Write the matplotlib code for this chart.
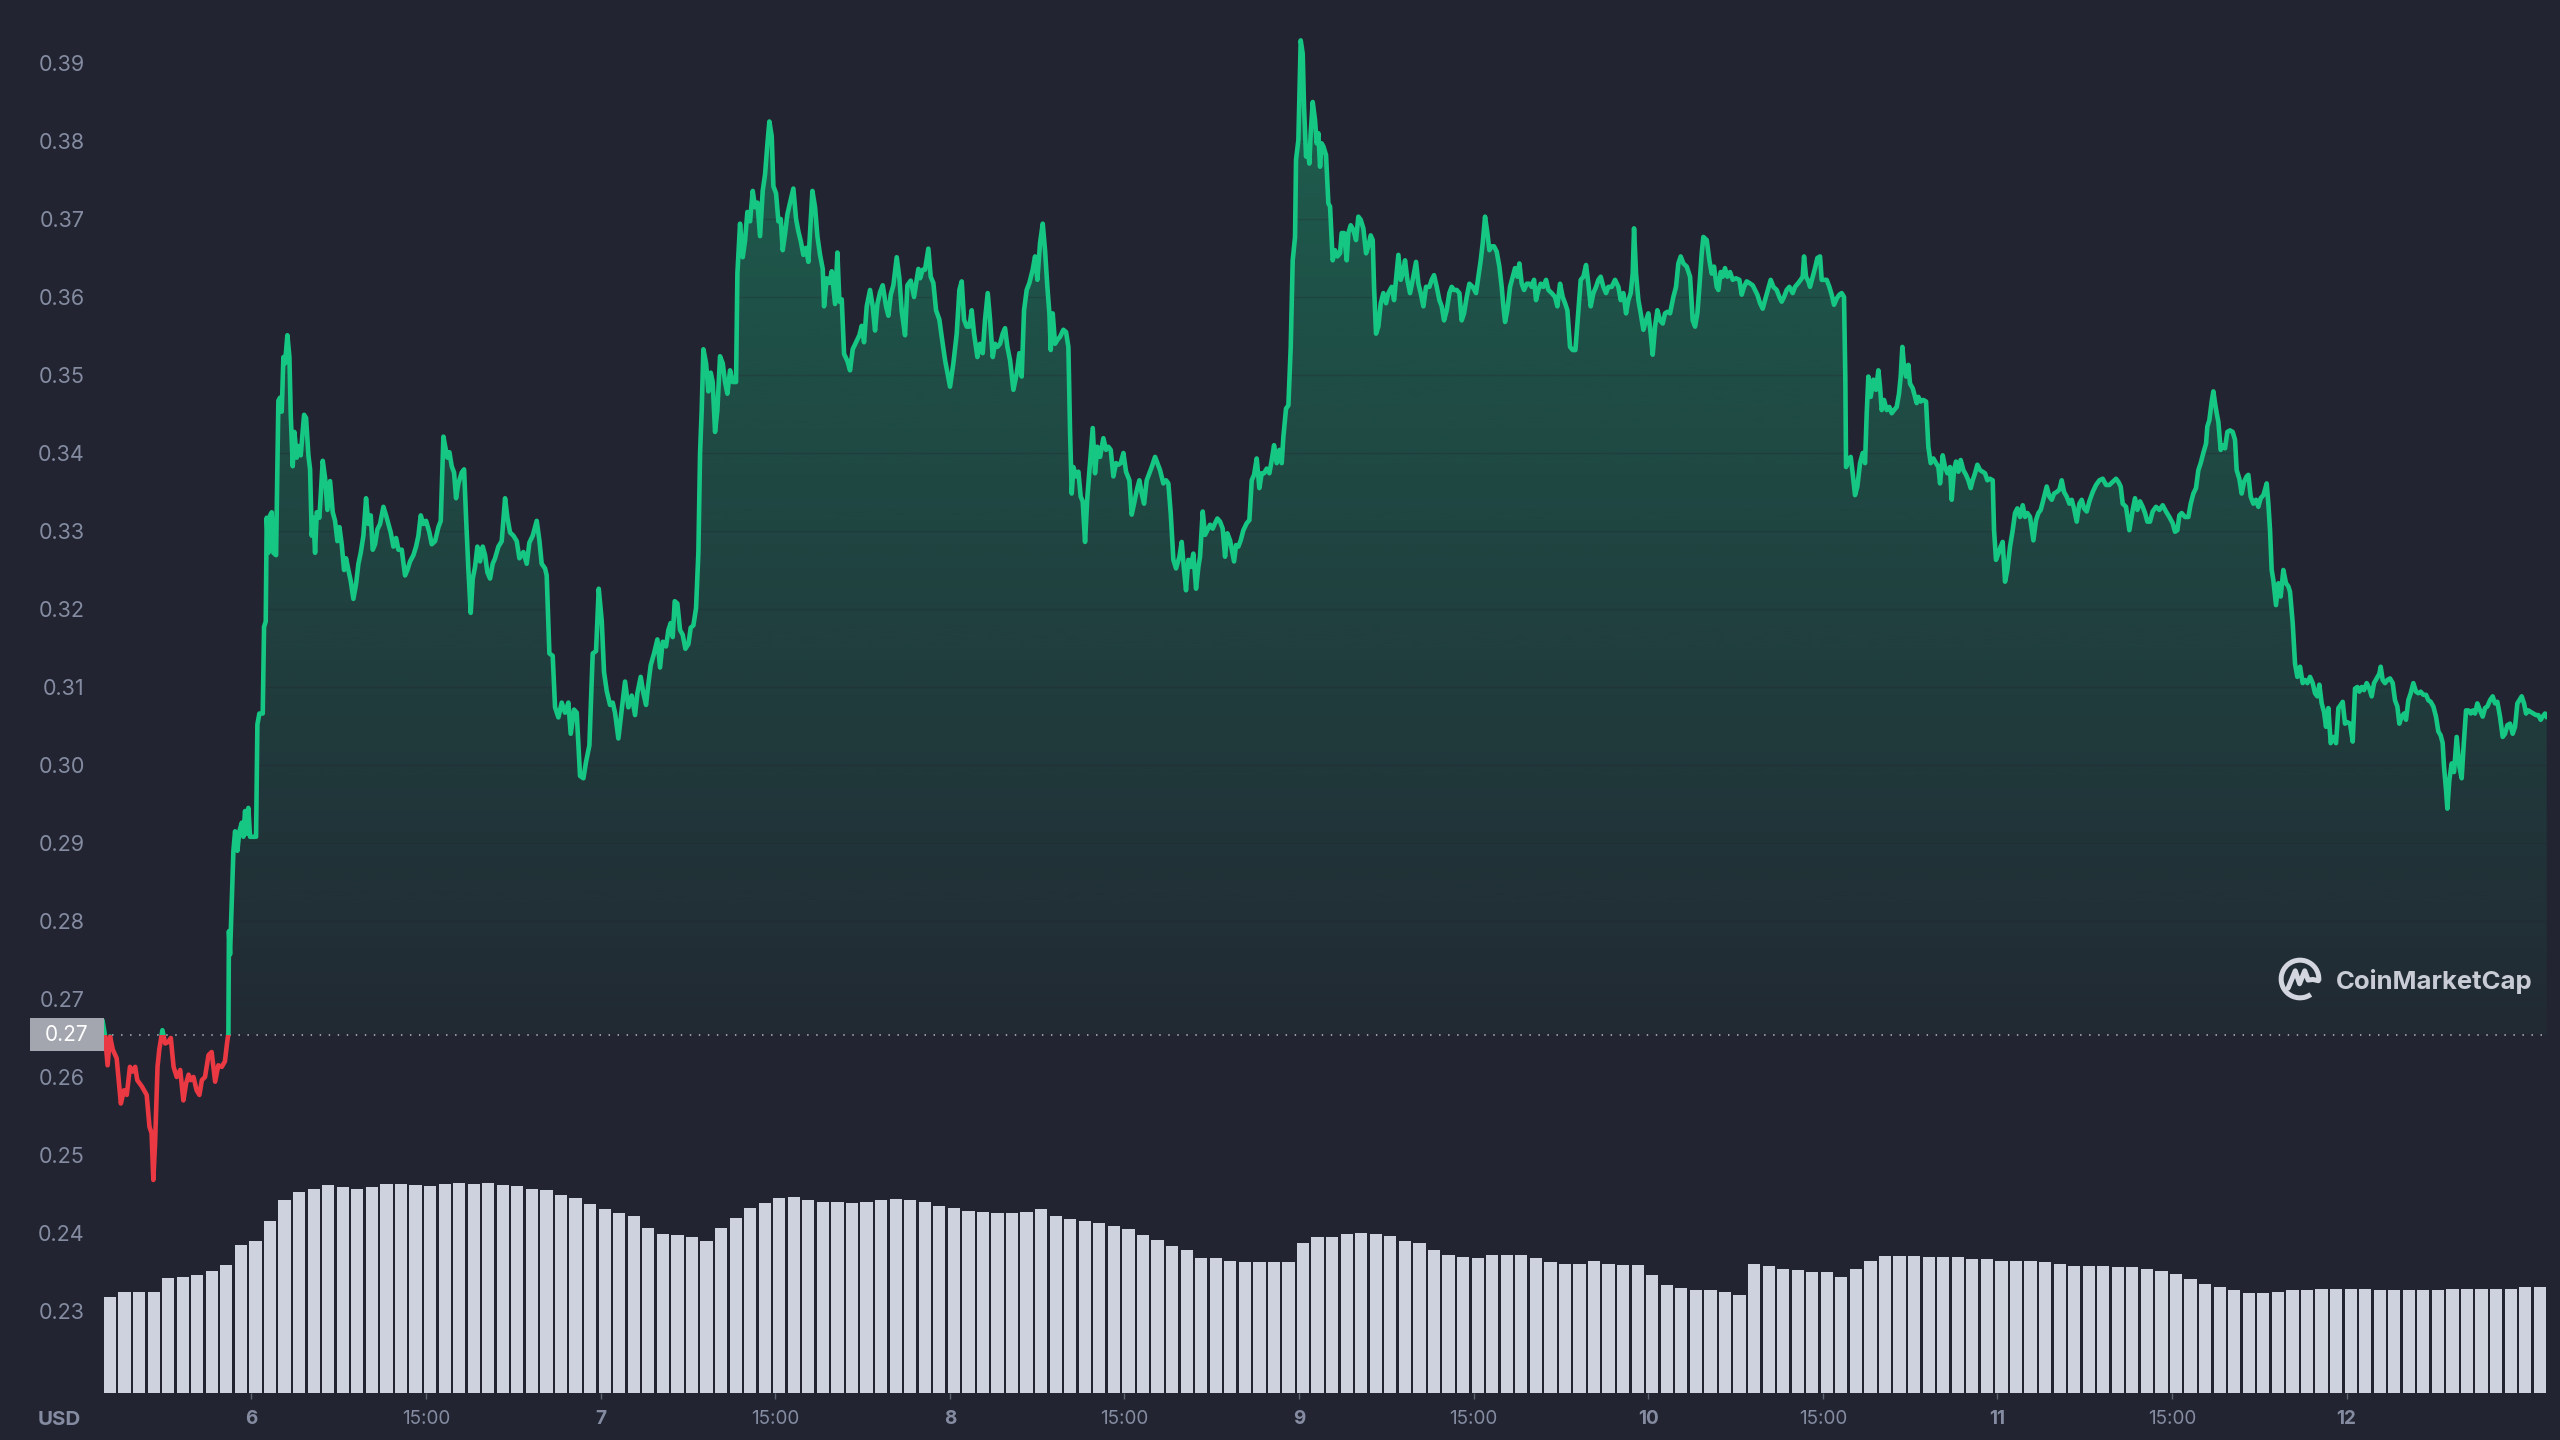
import numpy as np
import matplotlib
matplotlib.use("Agg")
import matplotlib.pyplot as plt
from matplotlib.patches import Rectangle, PathPatch, Arc
from matplotlib.path import Path
from matplotlib.transforms import blended_transform_factory
from matplotlib.colors import to_rgb

# ------------------------------------------------------------------ data
# time = day of month (fractional), price in USD
baseline_price = 0.2654          # open price of the period (dotted reference line)

red_open = [
    (5.5740, 0.2671), (5.5810, 0.2652), (5.5880, 0.2615), (5.5950, 0.2652), (5.6030, 0.2635),
    (5.6140, 0.2624), (5.6260, 0.2566), (5.6350, 0.2583), (5.6430, 0.2577), (5.6520, 0.2613),
    (5.6600, 0.2607), (5.6670, 0.2613), (5.6730, 0.2596), (5.6860, 0.2588), (5.7000, 0.2577),
    (5.7080, 0.2536), (5.7140, 0.2528), (5.7190, 0.2468), (5.7240, 0.2515), (5.7310, 0.2613),
    (5.7360, 0.2635), (5.7450, 0.2660), (5.7530, 0.2643), (5.7620, 0.2645), (5.7690, 0.2650),
    (5.7770, 0.2613), (5.7860, 0.2600), (5.7960, 0.2609), (5.8050, 0.2570), (5.8130, 0.2592),
    (5.8200, 0.2603), (5.8260, 0.2596), (5.8340, 0.2600), (5.8430, 0.2583), (5.8510, 0.2577),
    (5.8580, 0.2596), (5.8670, 0.2600), (5.8770, 0.2628), (5.8860, 0.2632), (5.8960, 0.2594),
    (5.9050, 0.2615), (5.9150, 0.2613), (5.9240, 0.2620), (5.9300, 0.2643), (5.9340, 0.2656),
]

rally_day6 = [
    (5.9355, 0.2787), (5.9387, 0.2757), (5.9483, 0.2890), (5.9531, 0.2915), (5.9597, 0.2890),
    (5.9655, 0.2915), (5.9722, 0.2926), (5.9769, 0.2908), (5.9817, 0.2941), (5.9865, 0.2912),
    (5.9912, 0.2945), (5.9960, 0.2908), (6.0036, 0.2908), (6.0132, 0.2908), (6.0170, 0.3052),
    (6.0227, 0.3066), (6.0323, 0.3066), (6.0361, 0.3177), (6.0409, 0.3184), (6.0437, 0.3317),
    (6.0485, 0.3272), (6.0533, 0.3320), (6.0581, 0.3324), (6.0628, 0.3272), (6.0705, 0.3269),
    (6.0771, 0.3467), (6.0819, 0.3471), (6.0867, 0.3453), (6.0915, 0.3523), (6.0962, 0.3515),
    (6.1029, 0.3551), (6.1087, 0.3523), (6.1125, 0.3449), (6.1182, 0.3383), (6.1230, 0.3427),
    (6.1297, 0.3394), (6.1344, 0.3409), (6.1411, 0.3397), (6.1507, 0.3449), (6.1564, 0.3445),
    (6.1631, 0.3397), (6.1679, 0.3379), (6.1726, 0.3294), (6.1774, 0.3317), (6.1822, 0.3272),
    (6.1870, 0.3324), (6.1946, 0.3317), (6.2041, 0.3390), (6.2108, 0.3368), (6.2175, 0.3327),
    (6.2251, 0.3364), (6.2328, 0.3324), (6.2394, 0.3313), (6.2461, 0.3287), (6.2519, 0.3305),
    (6.2585, 0.3283), (6.2652, 0.3250), (6.2709, 0.3265), (6.2776, 0.3250), (6.2843, 0.3236),
    (6.2919, 0.3213), (6.2996, 0.3232), (6.3063, 0.3258), (6.3129, 0.3272), (6.3206, 0.3294),
    (6.3282, 0.3342), (6.3349, 0.3309), (6.3416, 0.3320), (6.3473, 0.3276), (6.3540, 0.3283),
    (6.3607, 0.3302), (6.3683, 0.3309), (6.3779, 0.3331), (6.3855, 0.3320), (6.3922, 0.3309),
    (6.3989, 0.3298), (6.4065, 0.3280), (6.4141, 0.3291), (6.4208, 0.3276), (6.4304, 0.3276),
    (6.4399, 0.3243), (6.4466, 0.3250), (6.4542, 0.3261), (6.4638, 0.3269), (6.4714, 0.3280),
    (6.4781, 0.3294), (6.4848, 0.3320), (6.4924, 0.3309), (6.5001, 0.3313), (6.5096, 0.3298),
    (6.5163, 0.3283), (6.5258, 0.3287), (6.5354, 0.3305), (6.5421, 0.3313), (6.5497, 0.3421),
    (6.5545, 0.3409), (6.5611, 0.3394), (6.5669, 0.3401), (6.5735, 0.3383), (6.5802, 0.3375),
    (6.5859, 0.3342), (6.5926, 0.3361), (6.6022, 0.3375), (6.6089, 0.3379), (6.6146, 0.3317),
    (6.6213, 0.3250), (6.6279, 0.3195), (6.6337, 0.3239), (6.6403, 0.3254), (6.6470, 0.3280),
    (6.6547, 0.3261), (6.6623, 0.3280), (6.6690, 0.3269), (6.6757, 0.3247), (6.6833, 0.3239),
    (6.6909, 0.3258), (6.6976, 0.3265), (6.7072, 0.3280), (6.7167, 0.3287), (6.7263, 0.3342),
    (6.7330, 0.3317), (6.7406, 0.3298), (6.7502, 0.3294), (6.7597, 0.3287), (6.7673, 0.3265),
]

day7 = [
    (6.7787, 0.3273), (6.7883, 0.3258), (6.7959, 0.3285), (6.8055, 0.3294), (6.8169, 0.3313),
    (6.8245, 0.3288), (6.8312, 0.3258), (6.8408, 0.3252), (6.8455, 0.3243), (6.8532, 0.3143),
    (6.8627, 0.3140), (6.8694, 0.3074), (6.8790, 0.3061), (6.8885, 0.3080), (6.8981, 0.3067),
    (6.9076, 0.3080), (6.9143, 0.3040), (6.9238, 0.3071), (6.9315, 0.3067), (6.9410, 0.2986),
    (6.9506, 0.2983), (6.9582, 0.3004), (6.9677, 0.3025), (6.9773, 0.3143), (6.9868, 0.3146),
    (6.9945, 0.3226), (7.0031, 0.3185), (7.0097, 0.3119), (7.0174, 0.3095), (7.0269, 0.3077),
    (7.0346, 0.3080), (7.0412, 0.3067), (7.0508, 0.3034), (7.0603, 0.3071), (7.0699, 0.3107),
    (7.0794, 0.3074), (7.0890, 0.3089), (7.0985, 0.3064), (7.1052, 0.3092), (7.1147, 0.3113),
    (7.1224, 0.3092), (7.1300, 0.3077), (7.1367, 0.3104), (7.1434, 0.3128), (7.1529, 0.3143),
    (7.1625, 0.3161), (7.1701, 0.3125), (7.1777, 0.3158), (7.1873, 0.3152), (7.1940, 0.3173),
    (7.2006, 0.3182), (7.2064, 0.3164), (7.2121, 0.3210), (7.2197, 0.3207), (7.2274, 0.3173),
    (7.2350, 0.3167), (7.2427, 0.3149), (7.2513, 0.3155), (7.2579, 0.3176), (7.2656, 0.3179),
    (7.2732, 0.3201), (7.2799, 0.3273), (7.2847, 0.3400), (7.2894, 0.3455), (7.2942, 0.3533),
    (7.3019, 0.3515), (7.3085, 0.3479), (7.3152, 0.3503), (7.3209, 0.3491), (7.3276, 0.3427),
    (7.3343, 0.3455), (7.3419, 0.3524), (7.3496, 0.3515), (7.3562, 0.3491), (7.3629, 0.3476),
    (7.3706, 0.3506), (7.3782, 0.3491), (7.3878, 0.3491), (7.3916, 0.3630), (7.3992, 0.3694),
    (7.4069, 0.3651), (7.4135, 0.3672), (7.4202, 0.3709), (7.4279, 0.3697), (7.4355, 0.3736),
    (7.4422, 0.3715), (7.4489, 0.3721), (7.4565, 0.3678), (7.4641, 0.3736), (7.4708, 0.3757),
    (7.4775, 0.3796), (7.4832, 0.3825), (7.4899, 0.3806), (7.4947, 0.3742), (7.5023, 0.3733),
    (7.5090, 0.3697), (7.5157, 0.3700), (7.5214, 0.3660), (7.5281, 0.3681), (7.5348, 0.3706),
    (7.5424, 0.3721), (7.5519, 0.3739), (7.5596, 0.3700), (7.5663, 0.3684), (7.5729, 0.3672),
    (7.5806, 0.3654), (7.5882, 0.3663), (7.5949, 0.3645), (7.6016, 0.3697), (7.6064, 0.3736),
    (7.6140, 0.3715), (7.6207, 0.3678), (7.6283, 0.3654), (7.6360, 0.3636), (7.6398, 0.3588),
    (7.6474, 0.3624), (7.6551, 0.3618), (7.6618, 0.3633), (7.6713, 0.3591), (7.6780, 0.3657),
    (7.6837, 0.3594), (7.6904, 0.3597), (7.6971, 0.3527), (7.7066, 0.3518), (7.7142, 0.3506),
    (7.7219, 0.3533), (7.7314, 0.3542), (7.7410, 0.3551), (7.7476, 0.3563), (7.7543, 0.3542),
    (7.7620, 0.3588), (7.7715, 0.3609), (7.7791, 0.3588), (7.7858, 0.3557), (7.7925, 0.3591),
    (7.8001, 0.3606), (7.8078, 0.3615), (7.8173, 0.3588), (7.8240, 0.3576), (7.8307, 0.3603),
    (7.8383, 0.3615), (7.8479, 0.3651), (7.8555, 0.3624), (7.8622, 0.3582), (7.8717, 0.3551),
    (7.8784, 0.3615), (7.8880, 0.3621), (7.8975, 0.3600), (7.9099, 0.3636),
]

day8 = [
    (7.9147, 0.3624), (7.9223, 0.3635), (7.9290, 0.3635), (7.9385, 0.3662), (7.9452, 0.3626),
    (7.9528, 0.3618), (7.9605, 0.3583), (7.9700, 0.3571), (7.9767, 0.3549), (7.9863, 0.3519),
    (8.0006, 0.3485), (8.0101, 0.3515), (8.0197, 0.3553), (8.0273, 0.3609), (8.0340, 0.3620),
    (8.0407, 0.3571), (8.0483, 0.3562), (8.0560, 0.3562), (8.0626, 0.3583), (8.0693, 0.3553),
    (8.0789, 0.3523), (8.0865, 0.3540), (8.0941, 0.3528), (8.1008, 0.3571), (8.1085, 0.3605),
    (8.1151, 0.3571), (8.1228, 0.3523), (8.1295, 0.3540), (8.1361, 0.3536), (8.1438, 0.3540),
    (8.1514, 0.3553), (8.1581, 0.3560), (8.1648, 0.3536), (8.1724, 0.3519), (8.1820, 0.3481),
    (8.1915, 0.3502), (8.1991, 0.3528), (8.2058, 0.3498), (8.2125, 0.3583), (8.2201, 0.3609),
    (8.2278, 0.3618), (8.2373, 0.3635), (8.2440, 0.3652), (8.2507, 0.3622), (8.2583, 0.3669),
    (8.2660, 0.3694), (8.2726, 0.3660), (8.2793, 0.3613), (8.2851, 0.3579), (8.2889, 0.3532),
    (8.2946, 0.3579), (8.3013, 0.3540), (8.3080, 0.3545), (8.3156, 0.3549), (8.3251, 0.3558),
    (8.3328, 0.3555), (8.3395, 0.3536), (8.3442, 0.3429), (8.3490, 0.3348), (8.3538, 0.3382),
    (8.3614, 0.3370), (8.3681, 0.3376), (8.3748, 0.3344), (8.3805, 0.3338), (8.3872, 0.3286),
    (8.3939, 0.3344), (8.4015, 0.3387), (8.4092, 0.3432), (8.4158, 0.3374), (8.4225, 0.3408),
    (8.4302, 0.3395), (8.4397, 0.3419), (8.4473, 0.3404), (8.4540, 0.3408), (8.4607, 0.3404),
    (8.4683, 0.3370), (8.4760, 0.3387), (8.4827, 0.3385), (8.4893, 0.3387), (8.4970, 0.3400),
    (8.5046, 0.3376), (8.5142, 0.3365), (8.5208, 0.3321), (8.5275, 0.3335), (8.5352, 0.3352),
    (8.5428, 0.3365), (8.5495, 0.3348), (8.5562, 0.3335), (8.5638, 0.3365), (8.5714, 0.3374),
    (8.5781, 0.3382), (8.5877, 0.3395), (8.5943, 0.3387), (8.6020, 0.3378), (8.6115, 0.3361),
    (8.6192, 0.3365), (8.6258, 0.3361), (8.6325, 0.3323), (8.6402, 0.3263), (8.6478, 0.3252),
    (8.6574, 0.3267), (8.6640, 0.3286), (8.6707, 0.3250), (8.6764, 0.3224), (8.6831, 0.3263),
    (8.6898, 0.3254), (8.6974, 0.3271), (8.7051, 0.3226), (8.7118, 0.3254), (8.7165, 0.3267),
    (8.7242, 0.3325), (8.7309, 0.3295), (8.7375, 0.3301), (8.7452, 0.3308), (8.7528, 0.3303),
    (8.7595, 0.3310), (8.7662, 0.3316), (8.7738, 0.3312), (8.7814, 0.3303), (8.7881, 0.3267),
    (8.7948, 0.3297), (8.8024, 0.3288), (8.8139, 0.3261), (8.8196, 0.3282), (8.8263, 0.3280),
    (8.8330, 0.3288), (8.8406, 0.3301), (8.8502, 0.3310), (8.8578, 0.3314), (8.8645, 0.3365),
    (8.8712, 0.3372), (8.8788, 0.3393), (8.8864, 0.3355), (8.8931, 0.3374), (8.8998, 0.3374),
    (8.9074, 0.3380), (8.9151, 0.3374), (8.9218, 0.3391), (8.9285, 0.3410), (8.9361, 0.3387),
    (8.9437, 0.3404), (8.9504, 0.3387), (8.9552, 0.3421), (8.9628, 0.3457), (8.9695, 0.3461),
    (8.9762, 0.3536), (8.9819, 0.3647), (8.9886, 0.3677),
]

day9 = [
    (8.9914, 0.3776), (8.9981, 0.3801), (9.0048, 0.3929), (9.0105, 0.3912), (9.0143, 0.3844),
    (9.0201, 0.3780), (9.0239, 0.3793), (9.0296, 0.3771), (9.0334, 0.3810), (9.0391, 0.3850),
    (9.0458, 0.3827), (9.0506, 0.3797), (9.0554, 0.3810), (9.0602, 0.3767), (9.0649, 0.3797),
    (9.0697, 0.3793), (9.0773, 0.3782), (9.0840, 0.3720), (9.0888, 0.3716), (9.0964, 0.3647),
    (9.1031, 0.3660), (9.1098, 0.3652), (9.1174, 0.3656), (9.1222, 0.3682), (9.1289, 0.3682),
    (9.1365, 0.3647), (9.1413, 0.3682), (9.1480, 0.3692), (9.1556, 0.3686), (9.1632, 0.3673),
    (9.1699, 0.3703), (9.1766, 0.3699), (9.1842, 0.3688), (9.1919, 0.3656), (9.1986, 0.3665),
    (9.2052, 0.3679), (9.2110, 0.3673), (9.2148, 0.3613), (9.2205, 0.3553), (9.2272, 0.3562),
    (9.2339, 0.3592), (9.2415, 0.3605), (9.2492, 0.3592), (9.2558, 0.3605), (9.2654, 0.3613),
    (9.2721, 0.3596), (9.2778, 0.3622), (9.2845, 0.3654), (9.2912, 0.3622), (9.2969, 0.3630),
    (9.3036, 0.3647), (9.3102, 0.3622), (9.3179, 0.3605), (9.3255, 0.3622), (9.3351, 0.3645),
    (9.3418, 0.3617), (9.3484, 0.3605), (9.3561, 0.3588), (9.3637, 0.3613), (9.3733, 0.3613),
    (9.3799, 0.3622), (9.3866, 0.3628), (9.3943, 0.3613), (9.4019, 0.3596), (9.4086, 0.3588),
    (9.4153, 0.3570), (9.4229, 0.3583), (9.4305, 0.3605), (9.4372, 0.3613), (9.4439, 0.3609),
    (9.4515, 0.3609), (9.4592, 0.3605), (9.4658, 0.3570), (9.4725, 0.3579), (9.4802, 0.3600),
    (9.4878, 0.3617), (9.4974, 0.3613), (9.5069, 0.3605), (9.5136, 0.3626), (9.5203, 0.3647),
    (9.5260, 0.3669), (9.5327, 0.3703), (9.5394, 0.3682), (9.5451, 0.3660), (9.5518, 0.3665),
    (9.5584, 0.3665), (9.5661, 0.3658), (9.5737, 0.3639), (9.5804, 0.3613), (9.5852, 0.3588),
    (9.5900, 0.3568), (9.5966, 0.3583), (9.6043, 0.3613), (9.6119, 0.3626), (9.6186, 0.3637),
    (9.6253, 0.3626), (9.6310, 0.3643), (9.6377, 0.3617), (9.6444, 0.3609), (9.6520, 0.3617),
    (9.6596, 0.3617), (9.6663, 0.3613), (9.6730, 0.3622), (9.6787, 0.3596), (9.6854, 0.3609),
    (9.6921, 0.3617), (9.6997, 0.3613), (9.7074, 0.3622), (9.7140, 0.3609), (9.7236, 0.3605),
    (9.7331, 0.3600), (9.7398, 0.3588), (9.7475, 0.3617), (9.7551, 0.3600), (9.7618, 0.3592),
    (9.7685, 0.3583), (9.7761, 0.3536), (9.7838, 0.3532), (9.7914, 0.3532), (9.8000, 0.3583),
    (9.8067, 0.3622), (9.8143, 0.3626), (9.8219, 0.3641), (9.8286, 0.3617), (9.8353, 0.3588),
    (9.8429, 0.3605), (9.8506, 0.3613), (9.8573, 0.3622), (9.8639, 0.3626), (9.8716, 0.3613),
    (9.8792, 0.3605), (9.8859, 0.3613), (9.8954, 0.3613), (9.9050, 0.3622), (9.9145, 0.3613),
    (9.9212, 0.3596), (9.9288, 0.3605), (9.9365, 0.3579), (9.9432, 0.3596), (9.9498, 0.3605),
    (9.9556, 0.3630), (9.9594, 0.3688), (9.9651, 0.3630), (9.9718, 0.3596), (9.9785, 0.3579),
    (9.9861, 0.3558), (9.9937, 0.3570), (10.0004, 0.3579), (10.0071, 0.3553), (10.0128, 0.3526),
    (10.0195, 0.3562), (10.0262, 0.3583), (10.0338, 0.3570), (10.0415, 0.3566), (10.0481, 0.3579),
    (10.0548, 0.3581), (10.0625, 0.3579), (10.0720, 0.3600), (10.0796, 0.3613), (10.0863, 0.3643),
    (10.0930, 0.3652), (10.1007, 0.3643), (10.1102, 0.3639), (10.1198, 0.3626), (10.1274, 0.3570),
    (10.1341, 0.3562), (10.1408, 0.3579), (10.1465, 0.3613), (10.1532, 0.3656), (10.1579, 0.3677),
    (10.1675, 0.3673), (10.1751, 0.3647),
]

day10 = [
    (10.1818, 0.3630), (10.1884, 0.3639), (10.1961, 0.3613), (10.2009, 0.3609), (10.2075, 0.3632),
    (10.2133, 0.3626), (10.2199, 0.3637), (10.2266, 0.3626), (10.2343, 0.3632), (10.2419, 0.3622),
    (10.2514, 0.3624), (10.2610, 0.3622), (10.2677, 0.3603), (10.2744, 0.3613), (10.2820, 0.3620),
    (10.2896, 0.3618), (10.2992, 0.3615), (10.3059, 0.3609), (10.3125, 0.3603), (10.3202, 0.3592),
    (10.3278, 0.3585), (10.3345, 0.3596), (10.3440, 0.3611), (10.3507, 0.3622), (10.3584, 0.3613),
    (10.3679, 0.3609), (10.3755, 0.3600), (10.3822, 0.3594), (10.3889, 0.3600), (10.3965, 0.3609),
    (10.4042, 0.3613), (10.4137, 0.3605), (10.4204, 0.3613), (10.4299, 0.3618), (10.4366, 0.3622),
    (10.4424, 0.3626), (10.4462, 0.3652), (10.4519, 0.3626), (10.4586, 0.3620), (10.4634, 0.3613),
    (10.4710, 0.3626), (10.4777, 0.3637), (10.4844, 0.3650), (10.4920, 0.3652), (10.4968, 0.3622),
    (10.5035, 0.3622), (10.5111, 0.3622), (10.5187, 0.3613), (10.5254, 0.3603), (10.5321, 0.3590),
    (10.5397, 0.3598), (10.5474, 0.3603), (10.5540, 0.3605), (10.5607, 0.3600), (10.5645, 0.3494),
    (10.5665, 0.3382), (10.5731, 0.3391), (10.5798, 0.3395), (10.5855, 0.3374), (10.5922, 0.3346),
    (10.5989, 0.3357), (10.6066, 0.3387), (10.6142, 0.3400), (10.6209, 0.3387), (10.6257, 0.3451),
    (10.6304, 0.3498), (10.6371, 0.3472), (10.6447, 0.3494), (10.6524, 0.3481), (10.6591, 0.3506),
    (10.6638, 0.3485), (10.6686, 0.3455), (10.6753, 0.3468), (10.6829, 0.3455), (10.6906, 0.3459),
    (10.6972, 0.3451), (10.7039, 0.3455), (10.7116, 0.3459), (10.7182, 0.3476), (10.7230, 0.3498),
    (10.7278, 0.3536), (10.7326, 0.3511), (10.7383, 0.3498), (10.7450, 0.3513), (10.7497, 0.3489),
    (10.7574, 0.3483), (10.7641, 0.3472), (10.7688, 0.3464), (10.7736, 0.3472), (10.7803, 0.3466),
    (10.7879, 0.3468), (10.7956, 0.3466), (10.8022, 0.3408), (10.8089, 0.3387), (10.8166, 0.3393),
    (10.8242, 0.3387), (10.8309, 0.3382), (10.8357, 0.3361), (10.8433, 0.3397), (10.8500, 0.3382),
    (10.8567, 0.3374), (10.8643, 0.3382), (10.8691, 0.3340), (10.8758, 0.3378), (10.8815, 0.3389),
    (10.8882, 0.3376), (10.8948, 0.3391), (10.9025, 0.3378), (10.9101, 0.3372), (10.9168, 0.3365),
    (10.9235, 0.3355), (10.9292, 0.3365), (10.9359, 0.3374), (10.9426, 0.3385), (10.9502, 0.3378),
    (10.9578, 0.3376), (10.9645, 0.3374), (10.9712, 0.3365), (10.9788, 0.3367), (10.9865, 0.3365),
    (10.9903, 0.3301), (10.9960, 0.3263), (11.0027, 0.3271), (11.0094, 0.3280), (11.0151, 0.3286),
    (11.0218, 0.3235), (11.0285, 0.3250), (11.0361, 0.3280), (11.0438, 0.3301), (11.0504, 0.3323),
    (11.0571, 0.3329), (11.0648, 0.3318), (11.0724, 0.3333), (11.0791, 0.3318), (11.0858, 0.3323),
    (11.0934, 0.3318), (11.1030, 0.3288), (11.1106, 0.3314), (11.1173, 0.3323), (11.1240, 0.3327),
    (11.1316, 0.3340), (11.1412, 0.3357), (11.1488, 0.3344), (11.1555, 0.3340), (11.1622, 0.3348),
    (11.1698, 0.3350), (11.1774, 0.3353), (11.1841, 0.3365), (11.1908, 0.3350), (11.1984, 0.3344),
    (11.2061, 0.3335), (11.2127, 0.3340), (11.2194, 0.3329), (11.2271, 0.3312), (11.2347, 0.3335),
    (11.2414, 0.3340), (11.2481, 0.3329), (11.2557, 0.3325), (11.2633, 0.3338), (11.2729, 0.3350),
    (11.2824, 0.3359), (11.2920, 0.3365), (11.3015, 0.3367), (11.3111, 0.3359), (11.3206, 0.3359),
    (11.3301, 0.3363), (11.3397, 0.3367), (11.3464, 0.3363), (11.3530, 0.3357), (11.3588, 0.3335),
    (11.3683, 0.3331), (11.3779, 0.3301),
]

day11_12 = [
    (11.3874, 0.3327), (11.3940, 0.3342), (11.4007, 0.3327), (11.4084, 0.3338), (11.4160, 0.3331),
    (11.4227, 0.3323), (11.4294, 0.3312), (11.4370, 0.3312), (11.4446, 0.3325), (11.4542, 0.3331),
    (11.4637, 0.3327), (11.4733, 0.3333), (11.4828, 0.3325), (11.4924, 0.3318), (11.5019, 0.3310),
    (11.5086, 0.3299), (11.5153, 0.3301), (11.5210, 0.3320), (11.5277, 0.3323), (11.5372, 0.3318),
    (11.5468, 0.3318), (11.5535, 0.3335), (11.5611, 0.3348), (11.5687, 0.3355), (11.5754, 0.3378),
    (11.5821, 0.3387), (11.5897, 0.3400), (11.5974, 0.3412), (11.6012, 0.3434), (11.6069, 0.3442),
    (11.6136, 0.3466), (11.6184, 0.3479), (11.6232, 0.3464), (11.6279, 0.3451), (11.6327, 0.3440),
    (11.6394, 0.3404), (11.6451, 0.3410), (11.6518, 0.3406), (11.6585, 0.3427), (11.6661, 0.3429),
    (11.6738, 0.3427), (11.6804, 0.3417), (11.6852, 0.3378), (11.6928, 0.3367), (11.6995, 0.3348),
    (11.7062, 0.3363), (11.7138, 0.3370), (11.7186, 0.3372), (11.7253, 0.3344), (11.7329, 0.3335),
    (11.7406, 0.3340), (11.7472, 0.3331), (11.7539, 0.3342), (11.7616, 0.3346), (11.7663, 0.3353),
    (11.7711, 0.3361), (11.7759, 0.3335), (11.7807, 0.3301), (11.7854, 0.3250), (11.7902, 0.3237),
    (11.7978, 0.3205), (11.8045, 0.3233), (11.8112, 0.3216), (11.8188, 0.3250), (11.8265, 0.3233),
    (11.8331, 0.3229), (11.8379, 0.3222), (11.8456, 0.3182), (11.8522, 0.3130), (11.8589, 0.3113),
    (11.8666, 0.3126), (11.8742, 0.3105), (11.8809, 0.3109), (11.8876, 0.3105), (11.8952, 0.3113),
    (11.9029, 0.3105), (11.9095, 0.3092), (11.9162, 0.3088), (11.9219, 0.3103), (11.9286, 0.3079),
    (11.9353, 0.3068), (11.9410, 0.3049), (11.9477, 0.3073), (11.9544, 0.3028), (11.9620, 0.3036),
    (11.9697, 0.3028), (11.9764, 0.3073), (11.9830, 0.3077), (11.9888, 0.3081), (11.9954, 0.3053),
    (12.0021, 0.3055), (12.0098, 0.3053), (12.0174, 0.3030), (12.0241, 0.3098), (12.0308, 0.3100),
    (12.0365, 0.3094), (12.0432, 0.3100), (12.0499, 0.3096), (12.0575, 0.3105), (12.0651, 0.3098),
    (12.0718, 0.3088), (12.0785, 0.3105), (12.0861, 0.3111), (12.0938, 0.3117), (12.0976, 0.3126),
    (12.1033, 0.3109), (12.1100, 0.3105), (12.1167, 0.3109), (12.1243, 0.3111), (12.1320, 0.3105),
    (12.1386, 0.3083), (12.1453, 0.3075), (12.1510, 0.3053), (12.1577, 0.3062), (12.1644, 0.3066),
    (12.1701, 0.3058), (12.1768, 0.3083), (12.1835, 0.3092), (12.1911, 0.3105), (12.1988, 0.3094),
    (12.2054, 0.3092), (12.2121, 0.3094), (12.2198, 0.3090), (12.2274, 0.3090), (12.2341, 0.3083),
    (12.2408, 0.3081), (12.2484, 0.3075), (12.2560, 0.3062), (12.2627, 0.3043), (12.2694, 0.3038),
    (12.2751, 0.3028), (12.2789, 0.2998), (12.2847, 0.2968), (12.2885, 0.2944), (12.2942, 0.2981),
    (12.3009, 0.3002), (12.3076, 0.2991), (12.3152, 0.3036), (12.3229, 0.2998), (12.3295, 0.2983),
    (12.3343, 0.3019), (12.3420, 0.3070), (12.3486, 0.3070), (12.3553, 0.3066), (12.3610, 0.3070),
    (12.3677, 0.3066), (12.3744, 0.3079), (12.3820, 0.3070), (12.3897, 0.3062), (12.3964, 0.3073),
    (12.4030, 0.3075), (12.4107, 0.3083), (12.4183, 0.3088), (12.4250, 0.3079), (12.4317, 0.3081),
    (12.4393, 0.3062), (12.4470, 0.3036), (12.4536, 0.3040), (12.4603, 0.3051), (12.4680, 0.3053),
    (12.4756, 0.3040), (12.4823, 0.3049), (12.4890, 0.3079), (12.4947, 0.3083), (12.5014, 0.3088),
    (12.5081, 0.3079), (12.5138, 0.3066), (12.5205, 0.3070), (12.5272, 0.3068), (12.5348, 0.3066),
    (12.5424, 0.3064), (12.5491, 0.3064), (12.5558, 0.3058), (12.5615, 0.3062), (12.5682, 0.3066),
    (12.5730, 0.3062),
]

# hourly trading-volume bars (relative units, read as bar heights)
volume = [
    96, 101, 101, 101, 115, 116, 118, 122, 128, 148, 152, 172, 193, 201, 204, 208, 206, 204, 206, 209,
    209, 208, 207, 209, 210, 209, 210, 208, 207, 204, 203, 198, 195, 189, 184, 180, 177, 165, 159, 158,
    156, 152, 165, 175, 185, 190, 195, 196, 193, 191, 191, 190, 191, 193, 194, 193, 191, 187, 185, 182,
    181, 180, 180, 181, 184, 177, 174, 172, 170, 167, 164, 158, 153, 147, 143, 135, 135, 132, 131, 131,
    131, 131, 150, 156, 156, 159, 160, 159, 157, 152, 150, 143, 138, 136, 135, 138, 138, 138, 135, 131,
    129, 129, 132, 129, 128, 128, 118, 108, 105, 103, 103, 101, 98, 129, 127, 124, 123, 121, 121, 116,
    124, 132, 137, 137, 137, 136, 136, 136, 134, 134, 132, 132, 132, 131, 129, 127, 127, 127, 126, 126,
    124, 122, 119, 114, 109, 106, 103, 100, 100, 101, 103, 103, 104, 104, 104, 104, 103, 103, 103, 103,
    103, 104, 104, 104, 104, 104, 106, 106,
]

y_ticks = [0.23, 0.24, 0.25, 0.26, 0.27, 0.28, 0.29, 0.30, 0.31, 0.32,
           0.33, 0.34, 0.35, 0.36, 0.37, 0.38, 0.39]
day_ticks = [6, 7, 8, 9, 10, 11, 12]
half_day_label = "15:00"
currency_label = "USD"
watermark = "CoinMarketCap"

# ------------------------------------------------------------------ style
BG = "#222531"
GREEN = "#16c784"
RED = "#ea3943"
GREY = "#858ca2"
VOL = "#cdd2de"

plt.rcParams['font.family'] = ['Inter', 'DejaVu Sans']

W, H = 2560, 1440
fig = plt.figure(figsize=(W / 100, H / 100), dpi=100, facecolor=BG)

segments = [red_open, rally_day6, day7, day8, day9, day10, day11_12]
t = np.array([pt[0] for s in segments for pt in s])
p = np.array([pt[1] for s in segments for pt in s])

ax = fig.add_axes([102.7 / W, 47 / H, 2444 / W, 1393 / H])
ax.set_facecolor(BG)
xmin, xmax = t[0], t[-1]
ymin, ymax = 0.219487, 0.398077
ax.set_xlim(xmin, xmax)
ax.set_ylim(ymin, ymax)

# gradient fill between line and baseline (above baseline only)
pu = np.maximum(p, baseline_price)
verts = np.column_stack([np.r_[t, t[::-1]], np.r_[pu, np.full_like(t, baseline_price)]])
verts = np.vstack([verts, verts[:1]])
poly = PathPatch(Path(verts, closed=True), transform=ax.transData,
                 facecolor='none', edgecolor='none')
ax.add_patch(poly)
n = 400
grad = np.zeros((n, 1, 4))
grad[..., :3] = to_rgb(GREEN)
grad[:, 0, 3] = np.linspace(0.03, 0.38, n)
im = ax.imshow(grad, extent=[xmin, xmax, baseline_price, ymax], origin='lower',
               aspect='auto', zorder=1, interpolation='bilinear')
im.set_clip_path(poly)
ax.set_xlim(xmin, xmax)
ax.set_ylim(ymin, ymax)

# very faint horizontal grid (only noticeable on the fill)
for yv in y_ticks:
    ax.axhline(yv, color=BG, lw=1.0, alpha=0.28, zorder=1.5)

# dotted baseline
ax.axhline(baseline_price, color='#a0a5b2', lw=1.3, linestyle=(0, (0.8, 4.2)), zorder=2)

# price line, green above baseline, red below
clip_up = Rectangle((xmin, baseline_price), xmax - xmin, 1.0, transform=ax.transData)
clip_dn = Rectangle((xmin, 0.0), xmax - xmin, baseline_price, transform=ax.transData)
lg, = ax.plot(t, p, color=GREEN, lw=3.3, zorder=3, solid_joinstyle='round')
lg.set_clip_path(clip_up)
lr, = ax.plot(t, p, color=RED, lw=3.3, zorder=3, solid_joinstyle='round')
lr.set_clip_path(clip_dn)

# y axis
ax.set_yticks(y_ticks)
ax.set_yticklabels([f"{v:.2f}" for v in y_ticks])
ax.tick_params(axis='y', length=0, pad=13, labelsize=15.5, labelcolor=GREY)

# x axis
xt, xl = [], []
for d in day_ticks:
    xt.append(d)
    xl.append(str(d))
    if d != day_ticks[-1]:
        xt.append(d + 0.5)
        xl.append(half_day_label)
ax.set_xticks(xt)
ax.set_xticklabels(xl)
ax.tick_params(axis='x', length=4.3, width=1.0, color='#5d6272', pad=8,
               labelsize=13.6, labelcolor=GREY)
for lab in ax.get_xticklabels():
    if lab.get_text() != half_day_label:
        lab.set_fontweight('bold')
for sp in ax.spines.values():
    sp.set_visible(False)

# baseline price tag
trans = blended_transform_factory(ax.transAxes, ax.transData)
box_h = 33 / 7800
ax.add_patch(Rectangle((-73 / 2444, baseline_price - box_h / 2), 74 / 2444, box_h,
                       transform=trans, facecolor='#a3a6af', edgecolor='none',
                       clip_on=False, zorder=5))
ax.text(-36 / 2444, baseline_price, f"{baseline_price:.2f}", transform=trans,
        ha='center', va='center', color='white', fontsize=15, zorder=6, clip_on=False)

# volume bars
ax2 = ax.twinx()
vol = np.array(volume, dtype=float)
bar_t = xmin + (np.arange(len(vol)) + 0.5) / 24
ax2.bar(bar_t, vol, width=0.84 / 24, color=VOL, linewidth=0, zorder=2)
ax2.set_ylim(0, vol.max() / 0.151)
ax2.set_xlim(xmin, xmax)
ax2.axis('off')

# currency label
fig.text(59 / W, 1 - 1420 / H, currency_label, ha='center', va='center',
         fontsize=14.8, fontweight='bold', color=GREY)

# watermark
fig.text(2336 / W, 1 - 981 / H, watermark, ha='left', va='center',
         fontsize=18.5, fontweight='bold', color='#d3d6de', alpha=0.95)
lax = fig.add_axes([(2300 - 28) / W, (1440 - 979 - 28) / H, 56 / W, 56 / H])
lax.set_xlim(-1.3, 1.3)
lax.set_ylim(-1.3, 1.3)
lax.axis('off')
lax.add_patch(Arc((0, 0), 1.75, 1.75, theta1=-5, theta2=305, color='#d3d6de', lw=3.6))
lax.plot([-0.55, -0.22, -0.02, 0.22, 0.38, 0.6, 0.85],
         [-0.42, 0.38, -0.22, 0.38, -0.05, -0.02, -0.08],
         color='#d3d6de', lw=3.6, solid_joinstyle='round', solid_capstyle='round')

fig.savefig("out.png", dpi=100, facecolor=BG)
